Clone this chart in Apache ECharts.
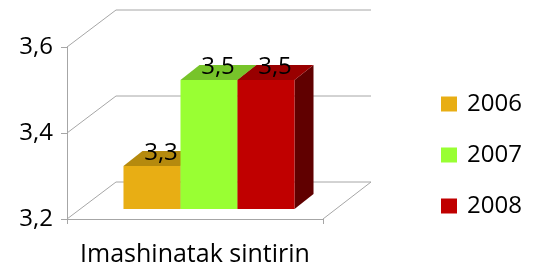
<!DOCTYPE html>
<html>
<head>
<meta charset="utf-8">
<script src="https://cdn.jsdelivr.net/npm/echarts@6/dist/echarts.min.js"></script>
<style>
    html, body { margin: 0; padding: 0; background: #fff; }
    #chart { width: 542px; height: 267px; }
</style>
</head>
<body>
<div id="chart"></div>
<script>
var categories = ['Imashinatak sintirin'];
var years = ['2006', '2007', '2008'];
var values2006 = [3.3];
var values2007 = [3.5];
var values2008 = [3.5];
var yTicks = [3.2, 3.4, 3.6];

var seriesValues = [values2006, values2007, values2008];
var faceColors = [
    { front: '#E8AE14', top: '#B58A0E', side: '#8A6A0A' },
    { front: '#99FF33', top: '#77C42A', side: '#5A9420' },
    { front: '#C00000', top: '#990000', side: '#600000' }
];

var FONT = '"Open Sans", "Liberation Sans", sans-serif';
var depth = [49, -37];       // back wall offset
var barFront = [13, -10];    // bar front plane offset
var barBack = [32, -25];     // bar back plane offset
var gridColor = '#a6a6a6';

function fmt(v) { return String(v).replace('.', ','); }

function renderWalls(params, api) {
    var cs = params.coordSys;
    var y = api.coord([0, api.value(0)])[1];
    var right = cs.x + cs.width;
    var children = [{
        type: 'polyline',
        shape: { points: [[cs.x, y], [cs.x + depth[0], y + depth[1]], [right + depth[0] - 1, y + depth[1]]] },
        style: { stroke: gridColor, lineWidth: 1, fill: null }
    }];
    if (params.dataIndex === 0) {
        children.push({
            type: 'line',
            shape: { x1: right, y1: y, x2: right + depth[0] - 1, y2: y + depth[1] },
            style: { stroke: gridColor, lineWidth: 1 }
        });
    }
    return { type: 'group', children: children };
}

function makeBarRenderer(idx) {
    return function (params, api) {
        var cs = params.coordSys;
        var band = cs.width / categories.length;
        var w = band * 0.2227;
        var center = api.coord([api.value(0), yTicks[0]]);
        var x0 = center[0] + 1 + (idx - 1.5) * w;
        var x1 = x0 + w;
        var yb = center[1] + barFront[1];
        var yt = api.coord([api.value(0), api.value(1)])[1] + barFront[1];
        x0 += barFront[0];
        x1 += barFront[0];
        var dx = barBack[0] - barFront[0];
        var dy = barBack[1] - barFront[1];
        var c = faceColors[idx];
        return {
            type: 'group',
            children: [
                {
                    type: 'polygon',
                    shape: { points: [[x1, yt], [x1 + dx, yt + dy], [x1 + dx, yb + dy], [x1, yb]] },
                    style: { fill: c.side }
                },
                {
                    type: 'polygon',
                    shape: { points: [[x0, yt], [x0 + dx, yt + dy], [x1 + dx, yt + dy], [x1, yt]] },
                    style: { fill: c.top }
                },
                {
                    type: 'rect',
                    shape: { x: x0, y: yt, width: w, height: yb - yt },
                    style: { fill: c.front }
                },
                {
                    type: 'text',
                    style: {
                        text: fmt(api.value(1)),
                        x: (x0 + x1) / 2 + 9,
                        y: yt - 13,
                        align: 'center',
                        verticalAlign: 'middle',
                        fill: '#000',
                        font: '24px ' + FONT
                    }
                }
            ]
        };
    };
}

var series = [{
    type: 'custom',
    name: 'walls',
    z: 1,
    silent: true,
    renderItem: renderWalls,
    data: yTicks.map(function (v) { return [v]; })
}];
years.forEach(function (year, i) {
    series.push({
        type: 'custom',
        name: year,
        z: 2 + i,
        itemStyle: { color: faceColors[i].front },
        renderItem: makeBarRenderer(i),
        data: seriesValues[i].map(function (v, k) { return [k, v]; })
    });
});

var chart = echarts.init(document.getElementById('chart'));
chart.setOption({
    animation: false,
    grid: { left: 67, top: 47, width: 256, height: 174 },
    legend: {
        data: years,
        orient: 'vertical',
        left: 436,
        top: 87,
        icon: 'rect',
        itemWidth: 16,
        itemHeight: 15,
        itemGap: 27,
        textStyle: { fontFamily: FONT, fontSize: 24, color: '#000', lineHeight: 24, padding: [0, 0, 0, 5] }
    },
    xAxis: {
        type: 'category',
        data: categories,
        axisLine: { lineStyle: { color: gridColor } },
        axisTick: { show: true, length: 5, lineStyle: { color: gridColor } },
        axisLabel: { fontFamily: FONT, fontSize: 25, color: '#000', margin: 23 }
    },
    yAxis: {
        type: 'value',
        min: 3.2,
        max: 3.6,
        interval: 0.2,
        axisLine: { show: true, lineStyle: { color: gridColor } },
        axisTick: { show: true, length: 6, lineStyle: { color: gridColor } },
        splitLine: { show: false },
        axisLabel: {
            fontFamily: FONT, fontSize: 24, color: '#000', margin: 14,
            formatter: function (v) { return fmt(Math.round(v * 10) / 10); }
        }
    },
    series: series
});
</script>
</body>
</html>
